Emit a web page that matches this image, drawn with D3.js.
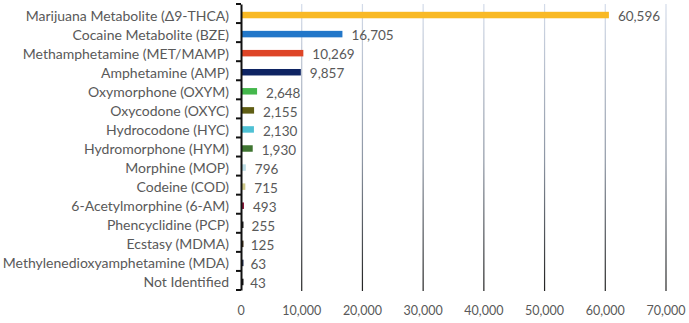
<!DOCTYPE html>
<html>
<head>
<meta charset="utf-8">
<script src="https://cdn.jsdelivr.net/npm/d3@7"></script>
<style>
  body { margin: 0; background: #fff; }
  svg text { font-family: Lato, "Open Sans", sans-serif; fill: #595959; }
</style>
</head>
<body>
<div id="chart"></div>
<script>
const categories = [
  "Marijuana Metabolite (Δ9-THCA)",
  "Cocaine Metabolite (BZE)",
  "Methamphetamine (MET/MAMP)",
  "Amphetamine (AMP)",
  "Oxymorphone (OXYM)",
  "Oxycodone (OXYC)",
  "Hydrocodone (HYC)",
  "Hydromorphone (HYM)",
  "Morphine (MOP)",
  "Codeine (COD)",
  "6-Acetylmorphine (6-AM)",
  "Phencyclidine (PCP)",
  "Ecstasy (MDMA)",
  "Methylenedioxyamphetamine (MDA)",
  "Not Identified"
];
const values = [60596, 16705, 10269, 9857, 2648, 2155, 2130, 1930, 796, 715, 493, 255, 125, 63, 43];
const barColors = ["#f9b924", "#2277c9", "#de4527", "#0e2463", "#44b74c", "#605e14", "#4fc1d4",
  "#3f7531", "#bcdde6", "#cfc98a", "#8b1a3a", "#1a1a1a", "#3a2a14", "#1f2a4a", "#111111"];
const xTicks = [0, 10000, 20000, 30000, 40000, 50000, 60000, 70000];

const width = 689, height = 323;
const margin = {top: 4, right: 23, bottom: 33, left: 241};

const svg = d3.select("#chart").append("svg")
    .attr("width", width)
    .attr("height", height);

const x = d3.scaleLinear()
    .domain([0, 70000])
    .range([margin.left, width - margin.right]);

const y = d3.scaleBand()
    .domain(categories)
    .range([margin.top, height - margin.bottom])
    .paddingInner(0.66)
    .paddingOuter(0.33);

const band = d3.scaleBand().domain(categories).range([margin.top, height - margin.bottom]);

// gridlines fade from pale blue at top to dark at bottom
const grad = svg.append("defs").append("linearGradient")
    .attr("id", "gridfade")
    .attr("gradientUnits", "userSpaceOnUse")
    .attr("x1", 0).attr("x2", 0)
    .attr("y1", margin.top).attr("y2", height - margin.bottom);
grad.append("stop").attr("offset", "0%").attr("stop-color", "#d4dcea");
grad.append("stop").attr("offset", "55%").attr("stop-color", "#8c95a3");
grad.append("stop").attr("offset", "100%").attr("stop-color", "#222");

svg.append("g")
    .selectAll("line")
    .data(xTicks.slice(1))
    .join("line")
    .attr("x1", d => x(d)).attr("x2", d => x(d))
    .attr("y1", margin.top).attr("y2", height - margin.bottom + 1)
    .attr("stroke", "url(#gridfade)")
    .attr("stroke-width", 1.2);

// bars
svg.append("g")
    .selectAll("rect")
    .data(values)
    .join("rect")
    .attr("x", x(0) + 1)
    .attr("y", (d, i) => y(categories[i]) + 1.5)
    .attr("width", d => Math.max(1.5, x(d) - x(0) - 1))
    .attr("height", y.bandwidth())
    .attr("fill", (d, i) => barColors[i]);

// value labels
svg.append("g")
    .selectAll("text")
    .data(values)
    .join("text")
    .attr("x", d => x(d) + 9)
    .attr("y", (d, i) => band(categories[i]) + band.bandwidth() / 2 + 3)
    .attr("dy", "0.35em")
    .attr("font-size", 13.5)
    .text(d => d3.format(",")(d));

// category axis
const yAxis = d3.axisLeft(band)
    .tickSize(0)
    .tickPadding(12);

const yg = svg.append("g")
    .attr("transform", `translate(${margin.left},0)`)
    .call(yAxis);
yg.select(".domain").attr("stroke", "#111").attr("stroke-width", 2);
yg.selectAll(".tick text")
    .attr("font-size", 14)
    .attr("dy", "0.5em")
    .style("font-family", "Lato, sans-serif")
    .attr("fill", "#595959");

// tick marks at band boundaries
const bounds = categories.map(c => band(c)).concat([height - margin.bottom]);
yg.append("g")
    .selectAll("line")
    .data(bounds)
    .join("line")
    .attr("x1", -5).attr("x2", 0)
    .attr("y1", d => d).attr("y2", d => d)
    .attr("stroke", "#111")
    .attr("stroke-width", 2);

// value axis labels
svg.append("g")
    .selectAll("text")
    .data(xTicks)
    .join("text")
    .attr("x", d => x(d))
    .attr("y", 315)
    .attr("text-anchor", "middle")
    .attr("font-size", 12.5)
    .text(d => d3.format(",")(d));
</script>
</body>
</html>
